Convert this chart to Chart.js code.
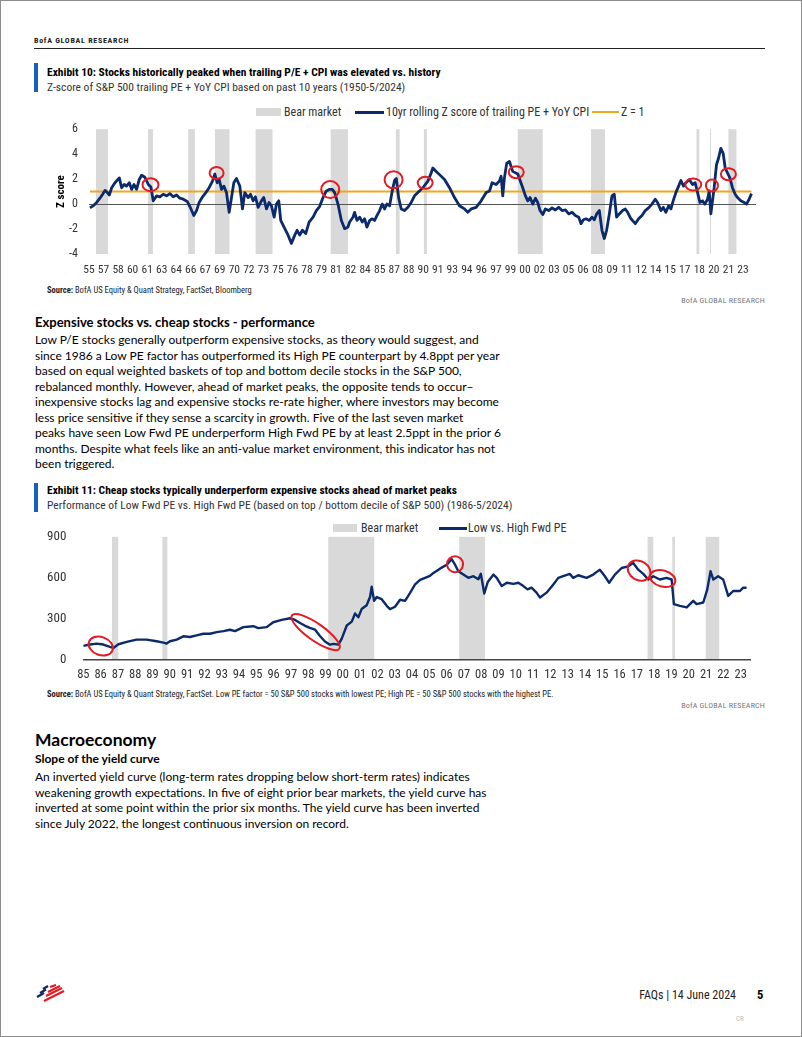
<!DOCTYPE html>
<html>
<head>
<meta charset="utf-8">
<script src="https://cdn.jsdelivr.net/npm/chart.js@4.4.1/dist/chart.umd.min.js"></script>
<style>
  html, body { margin: 0; padding: 0; background: #fff; }
  #page { position: relative; width: 802px; height: 1037px; overflow: hidden; font-family: Lato, "Open Sans", sans-serif; color: #000; }
  #frame { position: absolute; left: 0; top: 0; width: 802px; height: 1037px; box-sizing: border-box; border: 1px solid #8c8c8c; pointer-events: none; }
  .abs { position: absolute; white-space: nowrap; }
  .cond { font-family: "Roboto Condensed", "Liberation Sans Narrow", "DejaVu Sans Condensed", "Arial Narrow", sans-serif; }
  .rule { position: absolute; left: 34px; top: 48px; width: 731px; height: 1px; background: #222; }
  .bar { position: absolute; left: 34px; width: 4px; background: #1660c2; }
  .title { font-weight: bold; font-size: 11.5px; line-height: 14px; }
  .sub { font-size: 11.5px; line-height: 14px; color: #333; }
  .src { font-size: 8.5px; line-height: 10px; color: #222; }
  .gr { font-size: 8px; line-height: 10px; color: #777; letter-spacing: 0.2px; }
  .lg { font-size: 12px; line-height: 14px; color: #333; }
  .sw { position: absolute; }
  .body { font-size: 12px; line-height: 15.5px; }
  canvas { position: absolute; }
</style>
</head>
<body>
<div id="page">
  <div class="abs cond" style="left:34px; top:36px; font-size:8px; line-height:10px; letter-spacing:0.7px; font-weight:bold; color:#222;">BofA GLOBAL RESEARCH</div>
  <div class="rule"></div>

  <!-- Exhibit 10 -->
  <div class="bar" style="top:63px; height:29px;"></div>
  <div class="abs cond title" style="left:47px; top:65px;">Exhibit 10: Stocks historically peaked when trailing P/E + CPI was elevated vs. history</div>
  <div class="abs cond sub" style="left:47px; top:80px;">Z-score of S&amp;P 500 trailing PE + YoY CPI based on past 10 years (1950-5/2024)</div>

  <div class="sw" style="left:256px; top:108px; width:25px; height:8px; background:#d9d9d9;"></div>
  <div class="abs cond lg" style="left:284px; top:105px;">Bear market</div>
  <div class="sw" style="left:355px; top:111px; width:29px; height:3px; background:#0a2a6b;"></div>
  <div class="abs cond lg" style="left:386px; top:105px;">10yr rolling Z score of trailing PE + YoY CPI</div>
  <div class="sw" style="left:592px; top:111px; width:27px; height:2px; background:#f0a81c;"></div>
  <div class="abs cond lg" style="left:621px; top:105px;">Z = 1</div>

  <canvas id="c1" width="730" height="171" style="left:35px; top:111px;"></canvas>

  <div class="abs cond src" style="left:47px; top:285px;"><b>Source:</b> BofA US Equity &amp; Quant Strategy, FactSet, Bloomberg</div>
  <div class="abs cond gr" style="right:37px; top:296px;">BofA GLOBAL RESEARCH</div>

  <div class="abs" style="left:35px; top:314px; font-size:13px; line-height:16px; font-weight:bold;">Expensive stocks vs. cheap stocks - performance</div>
  <div class="abs body" style="left:35px; top:332px;">
    <div>Low P/E stocks generally outperform expensive stocks, as theory would suggest, and</div>
    <div>since 1986 a Low PE factor has outperformed its High PE counterpart by 4.8ppt per year</div>
    <div>based on equal weighted baskets of top and bottom decile stocks in the S&amp;P 500,</div>
    <div>rebalanced monthly. However, ahead of market peaks, the opposite tends to occur–</div>
    <div>inexpensive stocks lag and expensive stocks re-rate higher, where investors may become</div>
    <div>less price sensitive if they sense a scarcity in growth. Five of the last seven market</div>
    <div>peaks have seen Low Fwd PE underperform High Fwd PE by at least 2.5ppt in the prior 6</div>
    <div>months. Despite what feels like an anti-value market environment, this indicator has not</div>
    <div>been triggered.</div>
  </div>

  <!-- Exhibit 11 -->
  <div class="bar" style="top:483px; height:29px;"></div>
  <div class="abs cond title" style="left:47px; top:483px;">Exhibit 11: Cheap stocks typically underperform expensive stocks ahead of market peaks</div>
  <div class="abs cond sub" style="left:47px; top:498px;">Performance of Low Fwd PE vs. High Fwd PE (based on top / bottom decile of S&amp;P 500) (1986-5/2024)</div>

  <div class="sw" style="left:333px; top:524px; width:24px; height:8px; background:#d9d9d9;"></div>
  <div class="abs cond lg" style="left:361px; top:521px;">Bear market</div>
  <div class="sw" style="left:439px; top:527px; width:28px; height:3px; background:#0a2a6b;"></div>
  <div class="abs cond lg" style="left:468px; top:521px;">Low vs. High Fwd PE</div>

  <canvas id="c2" width="730" height="174" style="left:35px; top:512px;"></canvas>

  <div class="abs cond src" style="left:47px; top:689px;"><b>Source:</b> BofA US Equity &amp; Quant Strategy, FactSet. Low PE factor = 50 S&amp;P 500 stocks with lowest PE; High PE = 50 S&amp;P 500 stocks with the highest PE.</div>
  <div class="abs cond gr" style="right:37px; top:701px;">BofA GLOBAL RESEARCH</div>

  <div class="abs" style="left:35px; top:729px; font-size:17.5px; line-height:22px; font-weight:bold;">Macroeconomy</div>
  <div class="abs" style="left:35px; top:751px; font-size:12px; line-height:16px; font-weight:bold;">Slope of the yield curve</div>
  <div class="abs body" style="left:35px; top:769px; line-height:15.7px;">
    <div>An inverted yield curve (long-term rates dropping below short-term rates) indicates</div>
    <div>weakening growth expectations. In five of eight prior bear markets, the yield curve has</div>
    <div>inverted at some point within the prior six months. The yield curve has been inverted</div>
    <div>since July 2022, the longest continuous inversion on record.</div>
  </div>

  <!-- footer -->
  <svg class="abs" style="left:34px; top:984px;" width="32" height="20" viewBox="0 0 32 20">
    <g stroke-width="2.2" stroke-linecap="butt">
      <line x1="9" y1="5" x2="14" y2="2" stroke="#0a2a6b"/>
      <line x1="6" y1="9" x2="12" y2="5.5" stroke="#0a2a6b"/>
      <line x1="3" y1="13" x2="10" y2="9" stroke="#0a2a6b"/>
      <line x1="16" y1="3" x2="22" y2="1" stroke="#e31b23"/>
      <line x1="14" y1="8" x2="26" y2="2" stroke="#e31b23"/>
      <line x1="12" y1="12" x2="28" y2="4" stroke="#e31b23"/>
      <line x1="10" y1="17" x2="30" y2="7" stroke="#e31b23"/>
    </g>
  </svg>
  <div class="abs cond" style="right:66px; top:988px; font-size:12px; line-height:14px; color:#222;">FAQs | 14 June 2024</div>
  <div class="abs cond" style="left:757px; top:988px; font-size:12.5px; line-height:14px; font-weight:bold; color:#000;">5</div>
  <div class="abs cond" style="left:736px; top:1015px; font-size:7px; line-height:9px; color:#bbb;">CR</div>

  <div id="frame"></div>
</div>

<script>
// ---------- Exhibit 10: Z-score of trailing PE + YoY CPI ----------
const zYears = [1955.6, 1955.95, 1956.29, 1956.63, 1956.91, 1957.15, 1957.39, 1957.6, 1957.84, 1958.18,
  1958.63, 1958.87, 1959.14, 1959.38, 1959.66, 1959.9, 1960.14, 1960.41, 1960.69, 1960.93,
  1961.27, 1961.62, 1961.89, 1962.13, 1962.48, 1962.82, 1963.16, 1963.51, 1963.85, 1964.19,
  1964.54, 1964.88, 1965.23, 1965.64, 1965.98, 1966.32, 1966.6, 1966.87, 1967.22, 1967.56,
  1967.9, 1968.25, 1968.49, 1968.73, 1968.94, 1969.18, 1969.42, 1969.69, 1969.97, 1970.21,
  1970.45, 1970.72, 1971.07, 1971.34, 1971.58, 1971.93, 1972.17, 1972.44, 1972.68, 1972.96,
  1973.3, 1973.54, 1973.82, 1974.09, 1974.33, 1974.61, 1974.85, 1975.09, 1975.29, 1975.71,
  1976.05, 1976.39, 1976.74, 1976.98, 1977.25, 1977.53, 1977.87, 1978.22, 1978.63, 1978.97,
  1979.3, 1979.66, 1980.0, 1980.34, 1980.62, 1980.86, 1981.2, 1981.55, 1981.89, 1982.23,
  1982.4, 1982.75, 1982.92, 1983.16, 1983.44, 1983.71, 1983.95, 1984.19, 1984.47, 1984.74,
  1984.98, 1985.22, 1985.5, 1985.77, 1986.01, 1986.25, 1986.53, 1986.8, 1987.04, 1987.22,
  1987.46, 1987.73, 1988.07, 1988.42, 1988.76, 1989.1, 1989.45, 1989.96, 1990.48, 1990.82,
  1990.99, 1991.34, 1991.68, 1992.2, 1992.71, 1993.23, 1993.74, 1994.26, 1994.6, 1994.95,
  1995.46, 1995.98, 1996.5, 1996.84, 1997.11, 1997.52, 1997.87, 1998.04, 1998.21, 1998.38,
  1998.62, 1998.9, 1999.24, 1999.76, 2000.27, 2000.55, 2000.79, 2001.03, 2001.3, 2001.58,
  2001.82, 2002.06, 2002.34, 2002.61, 2002.95, 2003.3, 2003.64, 2003.98, 2004.33, 2004.67,
  2005.02, 2005.36, 2005.7, 2006.05, 2006.29, 2006.53, 2006.8, 2007.15, 2007.42, 2007.66,
  2007.9, 2008.18, 2008.45, 2008.69, 2008.93, 2009.21, 2009.48, 2009.72, 2009.96, 2010.24,
  2010.58, 2010.86, 2011.1, 2011.44, 2011.89, 2012.23, 2012.58, 2012.92, 2013.26, 2013.61,
  2013.95, 2014.19, 2014.53, 2014.78, 2015.05, 2015.33, 2015.57, 2015.8, 2016.08, 2016.36,
  2016.6, 2016.87, 2017.11, 2017.46, 2017.8, 2018.07, 2018.32, 2018.56, 2018.83, 2019.07,
  2019.35, 2019.52, 2019.69, 2019.86, 2020.03, 2020.27, 2020.48, 2020.72, 2020.96, 2021.17,
  2021.41, 2021.65, 2021.92, 2022.2, 2022.44, 2022.78, 2023.13, 2023.37, 2023.64, 2023.88];
const zValues = [-0.31, -0.13, 0.13, 0.47, 0.79, 1.1, 0.92, 0.73, 1.31, 1.71,
  2.1, 1.31, 1.57, 1.44, 1.71, 1.18, 1.57, 1.18, 1.97, 2.31,
  2.15, 1.57, 1.36, 0.26, 0.66, 0.58, 0.79, 0.66, 0.84, 0.58,
  0.73, 0.47, 0.39, 0.21, -0.31, -0.92, -0.52, 0.13, 0.58, 0.92,
  1.31, 1.84, 2.41, 1.71, 1.97, 1.18, 1.44, 0.92, -0.66, 0.52,
  1.71, 2.05, 1.44, -0.39, 0.92, 0.52, 0.79, 0.26, 0.58, -0.26,
  0.26, 0.52, -0.39, 0.13, -0.13, -1.05, 0.0, 0.26, -1.31, -1.97,
  -2.49, -3.15, -2.49, -2.1, -2.49, -2.1, -2.36, -1.44, -1.05, -0.52,
  -0.2, 0.52, 1.05, 1.18, 1.18, 0.92, 0.0, -1.31, -1.97, -1.84,
  -1.44, -1.05, -0.66, -1.31, -1.05, -1.44, -1.18, -1.84, -1.31, -1.18,
  -1.31, -0.92, -0.52, 0.0, -0.39, 0.0, -0.13, 1.05, 1.89, 2.05,
  0.52, -0.39, -0.52, -0.26, 0.13, 0.66, 0.92, 1.31, 1.84, 2.49,
  2.89, 2.62, 2.36, 1.97, 1.31, 0.52, -0.13, -0.39, -0.66, -0.39,
  -0.26, 0.26, 0.92, 1.05, 1.71, 1.57, 1.84, 2.23, 0.66, 2.1,
  3.28, 3.41, 2.62, 2.41, 1.31, 0.66, 0.26, 0.52, 0.0, 0.47,
  0.13, -0.52, -0.84, -0.39, -0.52, -0.31, -0.47, -0.26, -0.52, -0.47,
  -0.79, -0.66, -0.92, -1.05, -1.57, -1.26, -1.18, -1.31, -1.05, -1.26,
  -0.79, -0.52, -2.1, -2.76, -2.1, -0.79, 0.66, 0.79, -1.05, -0.79,
  -0.52, -0.39, -0.66, -1.18, -1.57, -1.18, -0.92, -0.52, -0.31, 0.0,
  0.39, 0.13, -0.52, -0.26, -0.66, -0.13, -0.39, 0.26, 0.92, 1.44,
  1.89, 1.44, 1.71, 1.97, 1.57, 1.71, 0.92, 0.13, 0.26, 0.0,
  0.39, 1.05, -0.79, 0.26, 1.31, 3.15, 3.67, 4.46, 4.07, 2.89,
  2.49, 2.1, 1.31, 0.79, 0.52, 0.26, 0.13, 0.0, 0.39, 0.84];
const zThreshold = 1;
const zTickLabels = ['55','57','58','60','61','63','64','66','67','69','70','72','73','75','76','78',
  '79','81','82','84','85','87','88','90','91','93','94','96','97','99','00','02','03','05','06','08',
  '09','11','12','14','15','17','18','20','21','23'];
const zTickFirst = 1955.5;   // Jul-55, then every 18 months
const zTickStep = 1.5;
const zBearStart = [1956.22, 1961.59, 1965.74, 1968.5, 1972.7, 1980.45, 1987.18, 1990.07, 1999.76, 2007.32, 2018.21, 2019.6, 2021.5];
const zBearEnd   = [1957.46, 1962.1, 1966.43, 1970.0, 1974.44, 1982.23, 1987.56, 1990.38, 2002.34, 2008.76, 2018.5, 2019.7, 2022.33];
const zPeakYears  = [1961.85, 1968.67, 1980.4, 1986.94, 1990.2, 1999.6, 2017.87, 2019.8, 2021.5];
const zPeakValues = [1.55, 2.5, 1.17, 1.95, 1.7, 2.56, 1.57, 1.49, 2.4];

// ---------- Exhibit 11: Low vs. High Fwd PE ----------
const pYears = [1985.92, 1986.31, 1986.69, 1987.08, 1987.46, 1987.66, 1987.95, 1988.43, 1989.0, 1989.58,
  1990.16, 1990.55, 1990.74, 1990.93, 1991.32, 1991.7, 1992.09, 1992.47, 1992.86, 1993.24,
  1993.63, 1994.02, 1994.4, 1994.69, 1995.17, 1995.75, 1996.04, 1996.52, 1996.9, 1997.39,
  1997.87, 1998.16, 1998.45, 1998.74, 1999.02, 1999.31, 1999.6, 1999.89, 2000.18, 2000.38,
  2000.67, 2000.86, 2001.15, 2001.44, 2001.63, 2001.82, 2002.01, 2002.3, 2002.5, 2002.59,
  2002.73, 2002.88, 2003.17, 2003.46, 2003.65, 2003.94, 2004.23, 2004.52, 2004.81, 2005.1,
  2005.39, 2005.68, 2005.96, 2006.16, 2006.45, 2006.64, 2006.93, 2007.22, 2007.41, 2007.6,
  2007.89, 2008.18, 2008.47, 2008.76, 2008.9, 2009.1, 2009.3, 2009.63, 2009.82, 2010.11,
  2010.4, 2010.78, 2011.07, 2011.36, 2011.6, 2011.83, 2012.12, 2012.32, 2012.7, 2013.09,
  2013.38, 2013.66, 2014.05, 2014.24, 2014.53, 2015.01, 2015.4, 2015.78, 2016.07, 2016.32,
  2016.65, 2017.04, 2017.42, 2017.71, 2018.0, 2018.29, 2018.58, 2018.87, 2019.25, 2019.64,
  2019.93, 2020.06, 2020.41, 2020.8, 2021.18, 2021.37, 2021.76, 2021.99, 2022.18, 2022.34,
  2022.62, 2022.91, 2023.2, 2023.49, 2023.88, 2024.07, 2024.26];
const pValues = [103, 113, 120, 113, 96, 88, 115, 132, 149, 149,
  137, 127, 120, 137, 149, 173, 168, 180, 192, 192,
  204, 211, 221, 211, 240, 247, 233, 240, 276, 293,
  305, 293, 270, 250, 235, 222, 175, 135, 112, 118,
  112, 156, 252, 280, 340, 312, 372, 400, 462, 536,
  432, 460, 444, 396, 372, 389, 440, 432, 490, 552,
  585, 600, 614, 636, 660, 675, 696, 736, 696, 648,
  624, 600, 612, 590, 630, 486, 570, 624, 600, 540,
  564, 556, 564, 540, 516, 528, 492, 456, 492, 552,
  600, 612, 629, 600, 619, 600, 624, 660, 612, 564,
  624, 672, 684, 708, 660, 629, 588, 612, 588, 600,
  588, 408, 396, 384, 432, 408, 420, 516, 648, 588,
  612, 588, 468, 504, 504, 528, 528];
const pTickLabels = ['85','86','87','88','89','90','91','92','93','94','95','96','97','98','99','00',
  '01','02','03','04','05','06','07','08','09','10','11','12','13','14','15','16','17','18','19',
  '20','21','22','23'];
const pTickFirst = 1985.92;  // Dec-85, then yearly
const pBearStart = [1987.58, 1990.49, 2000.08, 2007.65, 2018.54, 2019.97, 2021.9];
const pBearEnd   = [1987.94, 1990.78, 2002.74, 2009.14, 2018.87, 2020.12, 2022.68];
const pPeakYears  = [1986.93, 1999.35, 2007.41, 2018.05, 2019.41];
const pPeakValues = [102, 204, 700, 653, 595];

// ---------- styling ----------
const NAVY = '#0a2a6b';
const ORANGE = '#f0a81c';
const BEAR = '#d9d9d9';
const RED = '#e31b23';
const COND = '"Roboto Condensed", "Liberation Sans Narrow", "DejaVu Sans Condensed", "Arial Narrow", sans-serif';

Chart.defaults.font.family = COND;
Chart.defaults.color = '#333';

// shaded bear-market periods, behind everything
const bearBands = {
  id: 'bearBands',
  beforeDraw(chart, args, opts) {
    const {ctx, chartArea, scales: {x}} = chart;
    ctx.save();
    ctx.fillStyle = opts.color;
    opts.starts.forEach((s, i) => {
      const x0 = x.getPixelForValue(s);
      const x1 = x.getPixelForValue(opts.ends[i]);
      ctx.fillRect(x0, chartArea.top, Math.max(1, x1 - x0), chartArea.bottom - chartArea.top);
    });
    ctx.restore();
  }
};

// red rings around the market peaks
const peakRings = {
  id: 'peakRings',
  afterDatasetsDraw(chart, args, opts) {
    const {ctx, scales: {x, y}} = chart;
    ctx.save();
    ctx.strokeStyle = RED;
    ctx.lineWidth = 2;
    opts.xs.forEach((v, i) => {
      const [rx, ry, rot] = opts.shapes[i];
      ctx.beginPath();
      ctx.ellipse(x.getPixelForValue(v), y.getPixelForValue(opts.ys[i]), rx, ry, rot * Math.PI / 180, 0, Math.PI * 2);
      ctx.stroke();
    });
    ctx.restore();
  }
};

function points(xs, ys) {
  return xs.map((v, i) => ({x: v, y: ys[i]}));
}

// Exhibit 10
new Chart(document.getElementById('c1'), {
  type: 'line',
  data: {
    datasets: [{
      label: '10yr rolling Z score of trailing PE + YoY CPI',
      data: points(zYears, zValues),
      borderColor: NAVY,
      borderWidth: 2.8,
      pointRadius: 0,
      borderJoinStyle: 'round'
    }, {
      label: 'Z = 1',
      data: [{x: zYears[0], y: zThreshold}, {x: zYears[zYears.length - 1], y: zThreshold}],
      borderColor: ORANGE,
      borderWidth: 2,
      pointRadius: 0
    }]
  },
  options: {
    responsive: false,
    animation: false,
    events: [],
    layout: {padding: {top: 0, right: 9, left: 0, bottom: 0}},
    plugins: {
      legend: {display: false},
      tooltip: {enabled: false},
      bearBands: {color: BEAR, starts: zBearStart, ends: zBearEnd},
      peakRings: {xs: zPeakYears, ys: zPeakValues,
        shapes: [[8, 6.5, 0], [7, 6, 0], [9, 8.5, 0], [9, 8.5, 0], [7.5, 6, 0], [7.5, 6, 0], [8, 6, 0], [6, 6, 0], [7.5, 6, 0]]}
    },
    scales: {
      x: {
        type: 'linear',
        min: 1955.5,
        max: 2024.35,
        grid: {display: false, drawTicks: false},
        border: {display: false},
        afterBuildTicks: s => { s.ticks = zTickLabels.map((_, i) => ({value: zTickFirst + zTickStep * i})); },
        afterFit: s => { s.height = 28; },
        ticks: {autoSkip: false, maxRotation: 0, padding: 9, font: {size: 11.5}, callback: (v, i) => zTickLabels[i]}
      },
      y: {
        min: -4,
        max: 6,
        ticks: {stepSize: 2, padding: 11, font: {size: 12}},
        grid: {drawTicks: false, lineWidth: 1, color: c => c.tick.value === 0 ? '#555' : 'rgba(0,0,0,0)'},
        border: {display: false},
        title: {display: true, text: 'Z score', color: '#000', font: {size: 11, weight: 'bold'}, padding: {top: 20, bottom: 0}},
        afterFit: s => { s.width = 54; }
      }
    }
  },
  plugins: [bearBands, peakRings]
});

// Exhibit 11
new Chart(document.getElementById('c2'), {
  type: 'line',
  data: {
    datasets: [{
      label: 'Low vs. High Fwd PE',
      data: points(pYears, pValues),
      borderColor: NAVY,
      borderWidth: 2.4,
      pointRadius: 0,
      borderJoinStyle: 'round'
    }]
  },
  options: {
    responsive: false,
    animation: false,
    events: [],
    layout: {padding: {top: 7, right: 15, left: 0, bottom: 0}},
    plugins: {
      legend: {display: false},
      tooltip: {enabled: false},
      bearBands: {color: BEAR, starts: pBearStart, ends: pBearEnd},
      peakRings: {xs: pPeakYears, ys: pPeakValues,
        shapes: [[12.5, 9, 20], [29, 8.5, 35], [8, 8, 0], [12, 9.5, 30], [13, 8, 15]]}
    },
    scales: {
      x: {
        type: 'linear',
        min: 1985.92,
        max: 2024.46,
        grid: {display: false, drawTicks: false},
        border: {display: true, color: '#444', width: 1.5},
        afterBuildTicks: s => { s.ticks = pTickLabels.map((_, i) => ({value: pTickFirst + i})); },
        afterFit: s => { s.height = 26; },
        ticks: {autoSkip: false, maxRotation: 0, padding: 7, font: {size: 12.5}, callback: (v, i) => pTickLabels[i]}
      },
      y: {
        min: 0,
        max: 900,
        ticks: {stepSize: 300, padding: 17, font: {size: 13}},
        grid: {display: false, drawTicks: false},
        border: {display: false},
        afterFit: s => { s.width = 48.3; }
      }
    }
  },
  plugins: [bearBands, peakRings]
});
</script>
</body>
</html>
